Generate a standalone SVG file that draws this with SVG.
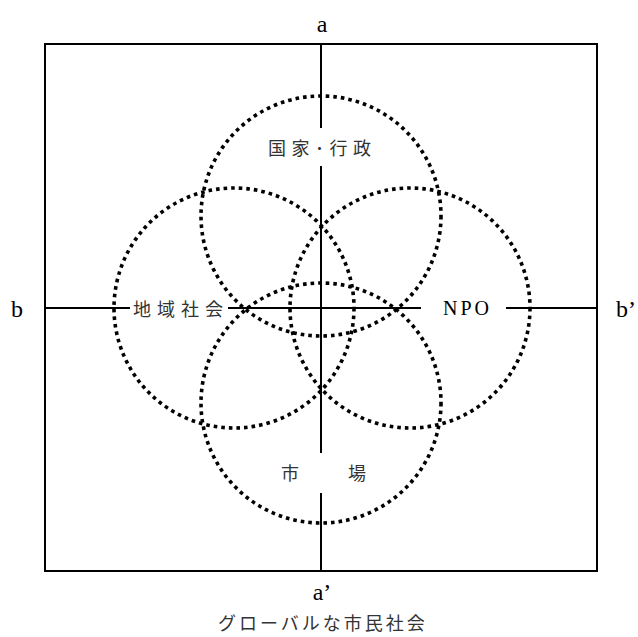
<svg xmlns="http://www.w3.org/2000/svg" width="638" height="637" viewBox="0 0 638 637">
<style>
.ax{stroke:#000;stroke-width:2;fill:none}
.c{fill:none;stroke:#000;stroke-width:3.6;stroke-dasharray:3.6 4}
.jp{font-family:"Noto Sans CJK JP",sans-serif;font-size:18px;fill:#333;dominant-baseline:central}
.lt{font-family:"Liberation Serif",serif;font-size:24px;fill:#000}
</style>
<rect width="638" height="637" fill="#fff"/>
<g id="frame"><rect class="ax" x="45" y="44" width="552" height="527"/></g>
<g id="connectors">
<path class="ax" d="M321 44V128M321 166V453M321 493V571"/>
<path class="ax" d="M45 308H130M228 308H421M506 308H597"/>
</g>
<g id="top"><circle class="c" cx="321" cy="216" r="120"/><text class="jp" x="268" y="147" letter-spacing="5.5">国家･行政</text></g>
<g id="left"><circle class="c" cx="234" cy="308" r="120"/><text class="jp" x="133" y="308" letter-spacing="6">地域社会</text></g>
<g id="right"><circle class="c" cx="410" cy="308" r="120"/><text x="443" y="315" font-family="Liberation Serif,serif" font-size="20" letter-spacing="3" fill="#000">NPO</text></g>
<g id="bottom"><circle class="c" cx="321" cy="403" r="120"/><text class="jp" x="281" y="472" letter-spacing="15.5">市　場</text></g>
<g id="labels">
<text class="lt" x="322" y="32" text-anchor="middle">a</text>
<text class="lt" x="322" y="600" text-anchor="middle">a’</text>
<text class="lt" x="17" y="317" text-anchor="middle">b</text>
<text class="lt" x="626" y="317" text-anchor="middle">b’</text>
<text class="jp" x="218" y="622" letter-spacing="3">グローバルな市民社会</text>
</g>
</svg>
